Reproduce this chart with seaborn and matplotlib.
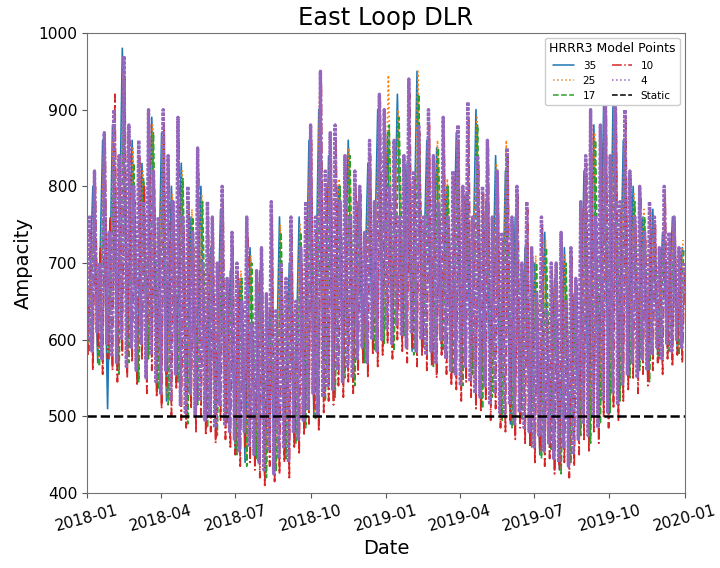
import matplotlib
matplotlib.use("Agg")
import matplotlib.pyplot as plt
import matplotlib.dates as mdates
import pandas as pd
import seaborn as sns

# Dynamic line rating (ampacity) at each HRRR3 model point
pt35 = [590, 800, 570, 860, 510, 880, 560, 980, 575, 860, 550, 830, 580, 890, 540,
        870, 520, 800, 550, 830, 500, 760, 520, 800, 490, 720, 480, 770, 495, 690,
        455, 680, 440, 720, 450, 690, 425, 640, 430, 760, 450, 700, 470, 760, 490,
        860, 500, 900, 525, 840, 530, 800, 555, 860, 545, 780, 575, 830, 590, 900,
        600, 870, 590, 920, 610, 830, 585, 950, 595, 860, 570, 850, 590, 800, 560,
        870, 545, 790, 560, 900, 515, 780, 530, 840, 500, 820, 490, 760, 500, 720,
        465, 700, 450, 740, 460, 680, 430, 720, 445, 660, 480, 820, 470, 880, 495,
        910, 510, 950, 525, 860, 555, 800, 565, 760, 550, 770, 580, 740, 590, 760,
        585, 720]
pt25 = [595, 780, 575, 840, 585, 860, 565, 950, 580, 850, 555, 820, 585, 880, 545,
        860, 525, 790, 555, 820, 505, 770, 525, 790, 495, 730, 485, 760, 500, 700,
        460, 690, 445, 710, 455, 700, 430, 650, 435, 750, 455, 710, 475, 750, 495,
        850, 505, 920, 530, 830, 535, 810, 560, 850, 550, 790, 580, 820, 595, 880,
        605, 945, 595, 900, 615, 840, 590, 950, 600, 850, 575, 860, 595, 810, 565,
        860, 550, 800, 565, 890, 520, 790, 535, 830, 505, 860, 495, 770, 505, 730,
        470, 710, 455, 730, 465, 690, 435, 710, 450, 670, 485, 810, 475, 870, 500,
        900, 515, 940, 530, 850, 560, 790, 570, 770, 555, 760, 585, 750, 595, 750,
        590, 730]
pt17 = [585, 770, 565, 830, 575, 850, 555, 930, 570, 830, 545, 810, 575, 870, 535,
        850, 515, 780, 545, 810, 490, 760, 515, 780, 485, 720, 475, 750, 490, 690,
        450, 680, 435, 700, 445, 690, 420, 640, 428, 740, 445, 700, 465, 740, 485,
        840, 495, 900, 520, 820, 525, 800, 550, 840, 540, 780, 570, 810, 585, 870,
        595, 880, 585, 890, 605, 830, 580, 920, 590, 840, 565, 850, 585, 800, 555,
        850, 540, 790, 555, 880, 510, 780, 525, 820, 495, 840, 485, 760, 495, 720,
        460, 700, 445, 720, 455, 680, 425, 700, 440, 660, 475, 800, 465, 860, 490,
        890, 505, 930, 520, 840, 550, 780, 560, 760, 545, 750, 575, 740, 585, 740,
        580, 720]
pt10 = [580, 740, 560, 800, 590, 720, 555, 850, 575, 760,
        560, 920, 545, 820, 580, 940, 550, 860, 570, 780,
        540, 840, 575, 800, 530, 880, 560, 800, 525, 740,
        510, 880, 540, 820, 500, 760, 535, 860, 495, 740,
        485, 780, 510, 720, 480, 820, 500, 690, 475, 760,
        480, 740, 465, 690, 495, 780, 470, 660, 460, 720,
        450, 690, 435, 640, 460, 740, 440, 610, 430, 680,
        420, 700, 410, 650, 435, 760, 415, 630, 425, 690,
        440, 660, 420, 740, 460, 640, 450, 700, 475, 760,
        490, 860, 510, 740, 480, 935, 505, 800, 520, 850,
        515, 860, 540, 770, 525, 830, 545, 750, 530, 800,
        555, 790, 570, 730, 550, 840, 580, 770, 565, 910,
        580, 880, 595, 790, 575, 850, 600, 750, 585, 830,
        570, 920, 590, 810, 565, 870, 580, 750, 560, 880,
        565, 830, 550, 770, 580, 870, 555, 750, 540, 810,
        535, 860, 520, 790, 545, 890, 525, 750, 510, 830,
        505, 790, 520, 850, 495, 750, 510, 810, 485, 730,
        480, 840, 495, 750, 470, 790, 485, 690, 465, 770,
        460, 710, 440, 650, 455, 750, 435, 630, 445, 690,
        425, 690, 430, 730, 440, 640, 420, 710, 435, 670,
        450, 770, 470, 830, 455, 880, 480, 750, 465, 860,
        500, 920, 485, 830, 510, 940, 495, 770, 520, 890,
        535, 810, 550, 750, 530, 790, 555, 730, 540, 770,
        560, 750, 570, 710, 555, 790, 575, 730, 565, 750, 580, 710, 570, 690]
pt4 = [600, 760, 585, 820, 610, 700, 575, 870, 595, 740,
       580, 900, 570, 840, 600, 970, 565, 880, 590, 800,
       560, 860, 595, 780, 550, 900, 580, 820, 545, 760,
       530, 900, 560, 840, 520, 780, 555, 890, 515, 760,
       505, 800, 530, 740, 500, 850, 520, 700, 495, 780,
       500, 760, 485, 700, 515, 800, 490, 680, 480, 740,
       470, 700, 455, 650, 480, 760, 460, 620, 450, 690,
       440, 720, 430, 660, 455, 780, 425, 640, 445, 700,
       460, 680, 440, 760, 480, 650, 470, 720, 495, 780,
       510, 880, 530, 760, 500, 950, 525, 820, 540, 870,
       535, 880, 560, 780, 545, 840, 565, 760, 550, 820,
       575, 800, 590, 740, 570, 860, 600, 780, 585, 920,
       600, 900, 615, 800, 595, 860, 620, 760, 605, 840,
       590, 940, 610, 820, 585, 880, 600, 760, 580, 900,
       585, 840, 570, 780, 600, 890, 575, 760, 560, 820,
       555, 880, 540, 800, 565, 910, 545, 760, 530, 840,
       525, 800, 540, 860, 515, 760, 530, 820, 505, 740,
       500, 850, 515, 760, 490, 800, 505, 700, 485, 780,
       480, 720, 460, 660, 475, 760, 455, 640, 465, 700,
       445, 700, 440, 740, 460, 650, 435, 720, 450, 680,
       470, 780, 490, 840, 475, 900, 500, 760, 485, 880,
       520, 930, 505, 840, 530, 960, 515, 780, 540, 900,
       555, 820, 570, 760, 550, 800, 575, 740, 560, 780,
       580, 760, 590, 720, 575, 800, 595, 740, 585, 760, 600, 720, 590, 700]

static_rating = 500
labels = ["35", "25", "17", "10", "4"]

series = {
    "35": (pd.date_range("2018-01-02", periods=len(pt35), freq="6D"), pt35, "-", 1.2),
    "25": (pd.date_range("2018-01-03", periods=len(pt25), freq="6D"), pt25, ":", 1.2),
    "17": (pd.date_range("2018-01-04", periods=len(pt17), freq="6D"), pt17, "--", 1.2),
    "10": (pd.date_range("2018-01-02", periods=len(pt10), freq="3D"), pt10, "-.", 1.3),
    "4": (pd.date_range("2018-01-01", periods=len(pt4), freq="3D"), pt4, (0, (1, 0.4)), 2.4),
}

sns.set_style("ticks")
plt.rcParams.update({
    "text.color": "black",
    "axes.labelcolor": "black",
    "xtick.labelcolor": "black",
    "ytick.labelcolor": "black",
    "xtick.color": "0.35",
    "ytick.color": "0.35",
    "axes.edgecolor": "0.45",
    "font.family": ["DejaVu Sans"],
})
palette = sns.color_palette("tab10")

fig = plt.figure(figsize=(7.2, 5.68), dpi=100)
ax = fig.add_axes([0.121, 0.132, 0.830, 0.810])

for i, name in enumerate(labels):
    dates, vals, ls, lw = series[name]
    sns.lineplot(x=dates, y=vals, ax=ax, color=palette[i], linestyle=ls,
                 linewidth=lw, label=name)

ax.axhline(static_rating, color="black", linestyle="--", linewidth=1.8, label="Static")

ax.set_xlim(pd.Timestamp("2018-01-01"), pd.Timestamp("2020-01-01"))
ax.set_ylim(400, 1000)
ax.xaxis.set_major_locator(mdates.MonthLocator(bymonth=[1, 4, 7, 10]))
ax.xaxis.set_major_formatter(mdates.DateFormatter("%Y-%m"))
ax.tick_params(axis="both", labelsize=11.2)
plt.setp(ax.get_xticklabels(), rotation=15)

ax.set_title("East Loop DLR", fontsize=17.5)
ax.set_xlabel("Date", fontsize=14)
ax.set_ylabel("Ampacity", fontsize=14)

leg = ax.legend(title="HRRR3 Model Points", ncol=2, loc="upper right", fontsize=7.5,
                title_fontsize=9, handlelength=2.0, columnspacing=1.5, framealpha=1.0)
for h in leg.get_lines():
    h.set_linewidth(1.1)
leg.get_lines()[4].set_linestyle(":")

fig.savefig("out.png", dpi=100)
